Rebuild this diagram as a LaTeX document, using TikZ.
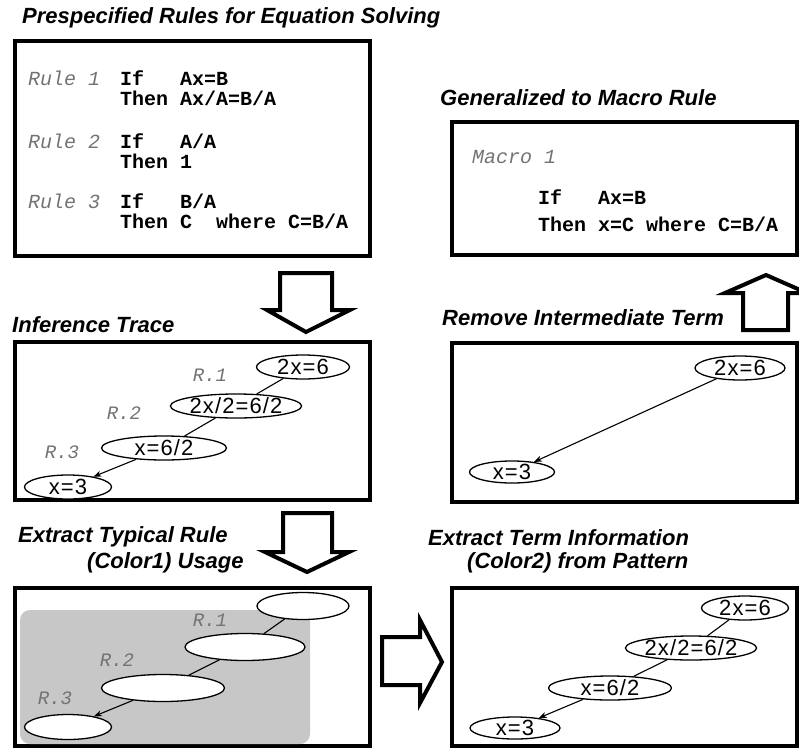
\documentclass[tikz,border=0pt]{standalone}
\usepackage{fontspec}
\setmainfont{Liberation Sans}
\setmonofont{Liberation Mono}
\newfontfamily\termfont[LetterSpace=5]{Liberation Sans}
\usetikzlibrary{arrows.meta,shapes.geometric}
\tikzset{
  panelbox/.style   = {draw=black, line width=3.6pt},
  paneltitle/.style = {anchor=west, inner sep=0pt,
                       font=\fontsize{22}{22}\selectfont\bfseries\itshape},
  ruletag/.style    = {anchor=base west, inner sep=0pt, text=black!55,
                       font=\fontsize{20}{20}\selectfont\ttfamily\itshape},
  ruletxt/.style    = {anchor=base west, inner sep=0pt,
                       font=\fontsize{20}{20}\selectfont\ttfamily\bfseries},
  term/.style       = {ellipse, draw=black, line width=1.3pt, fill=white, inner sep=0pt,
                       minimum height=24pt, font=\fontsize{22}{22}\termfont},
  blankterm/.style  = {ellipse, draw=black, line width=1.3pt, fill=white, inner sep=0pt,
                       minimum height=27pt},
  termlink/.style   = {draw=black, line width=1.1pt},
  termflow/.style   = {termlink, -{Stealth[length=8pt,width=6pt]}},
  rlbl/.style       = {inner sep=0pt, text=black!55,
                       font=\fontsize{19}{19}\selectfont\ttfamily\itshape},
  bigarrow/.style   = {draw=black, line width=4pt, fill=white, line join=miter},
  usageshade/.style = {fill=black!22, rounded corners=10pt},
}

\begin{document}
\begin{tikzpicture}[x=1pt,y=-1pt]
  \useasboundingbox (0,0) rectangle (799,749);
  \clip (0,0) rectangle (799,749);

  % prespecified rules
  \node[paneltitle] (ttlrules) at (22,18) {Prespecified Rules for Equation Solving};
  \draw[panelbox] (15,41) rectangle (370,256);
  \node[ruletag] (tag1)  at (28,86)   {Rule 1};
  \node[ruletxt] (if1)   at (120,86)  {If\ \ \ Ax=B};
  \node[ruletxt] (then1) at (120,106) {Then Ax/A=B/A};
  \node[ruletag] (tag2)  at (28,148)  {Rule 2};
  \node[ruletxt] (if2)   at (120,148) {If\ \ \ A/A};
  \node[ruletxt] (then2) at (120,168) {Then 1};
  \node[ruletag] (tag3)  at (28,208)  {Rule 3};
  \node[ruletxt] (if3)   at (120,208) {If\ \ \ B/A};
  \node[ruletxt] (then3) at (120,228) {Then C\ \ where C=B/A};

  \draw[bigarrow] (280,273) -- (332,273) -- (332,310) -- (350,310) -- (306,332)
                  -- (267,310) -- (280,310) -- cycle;

  % inference trace
  \node[paneltitle] (ttltrace) at (12,325) {Inference Trace};
  \draw[panelbox] (15,342) rectangle (370,500);
  \node[term, minimum width=93pt]  (a1) at (303,367) {2x=6};
  \node[term, minimum width=122pt] (a2) at (236,406) {2x/2=6/2};
  \node[term, minimum width=125pt] (a3) at (164,448) {x=6/2};
  \node[term, minimum width=87pt]  (a4) at (68,487)  {x=3};
  \node[rlbl] (ar1) at (210,375) {R.1};
  \node[rlbl] (ar2) at (124,413) {R.2};
  \node[rlbl] (ar3) at (62,452)  {R.3};
  \draw[termlink] (a1) -- (a2);
  \draw[termlink] (a2) -- (a3);
  \draw[termflow] (a3) -- (a4);

  \draw[bigarrow] (283,513) -- (332,513) -- (332,552) -- (349,552) -- (307,572)
                  -- (265,552) -- (283,552) -- cycle;

  % typical rule usage
  \node[paneltitle] (ttlusage)  at (18,537) {Extract Typical Rule};
  \node[paneltitle] (ttlusage2) at (87,563) {(Color1) Usage};
  \draw[panelbox] (15,588) rectangle (370,746);
  \fill[usageshade] (20,610) rectangle (310,744);
  \node[blankterm, minimum width=92pt]  (b1) at (303,606) {};
  \node[blankterm, minimum width=120pt] (b2) at (245,647) {};
  \node[blankterm, minimum width=123pt] (b3) at (163,688) {};
  \node[blankterm, minimum width=87pt, minimum height=25pt] (b4) at (68,727) {};
  \node[rlbl] (br1) at (210,620) {R.1};
  \node[rlbl] (br2) at (117,660) {R.2};
  \node[rlbl] (br3) at (55,698)  {R.3};
  \draw[termlink] (b1) -- (b2);
  \draw[termlink] (b2) -- (b3);
  \draw[termflow] (b3) -- (b4);

  \draw[bigarrow] (382,637) -- (420,637) -- (420,620) -- (442,662) -- (420,703)
                  -- (420,685) -- (382,685) -- cycle;

  % term information
  \node[paneltitle] (ttlterm)  at (428,538) {Extract Term Information};
  \node[paneltitle] (ttlterm2) at (467,563) {(Color2) from Pattern};
  \draw[panelbox] (452,588) rectangle (797,746);
  \node[term, minimum width=87pt]  (c1) at (745,608) {2x=6};
  \node[term, minimum width=122pt] (c2) at (691,648) {2x/2=6/2};
  \node[term, minimum width=123pt] (c3) at (610,688) {x=6/2};
  \node[term, minimum width=90pt, minimum height=22pt] (c4) at (515,728) {x=3};
  \draw[termlink] (c1) -- (c2);
  \draw[termlink] (c2) -- (c3);
  \draw[termflow] (c3) -- (c4);

  % intermediate term removed
  \node[paneltitle] (ttlremove) at (442,318) {Remove Intermediate Term};
  \draw[panelbox] (452,343) rectangle (797,502);
  \node[term, minimum width=90pt] (d1) at (740,368) {2x=6};
  \node[term, minimum width=85pt, minimum height=22pt] (d2) at (512,472) {x=3};
  \draw[termflow] (d1) -- (d2);

  \draw[bigarrow] (743,330) -- (788,330) -- (788,293) -- (807,293) -- (766,275)
                  -- (725,293) -- (743,293) -- cycle;

  % macro rule
  \node[paneltitle] (ttlmacro) at (440,98) {Generalized to Macro Rule};
  \draw[panelbox] (452,122) rectangle (797,255);
  \node[ruletag] (mtag)  at (472,163) {Macro 1};
  \node[ruletxt] (mif)   at (538,204) {If\ \ \ Ax=B};
  \node[ruletxt] (mthen) at (538,231) {Then x=C where C=B/A};
\end{tikzpicture}
\end{document}
